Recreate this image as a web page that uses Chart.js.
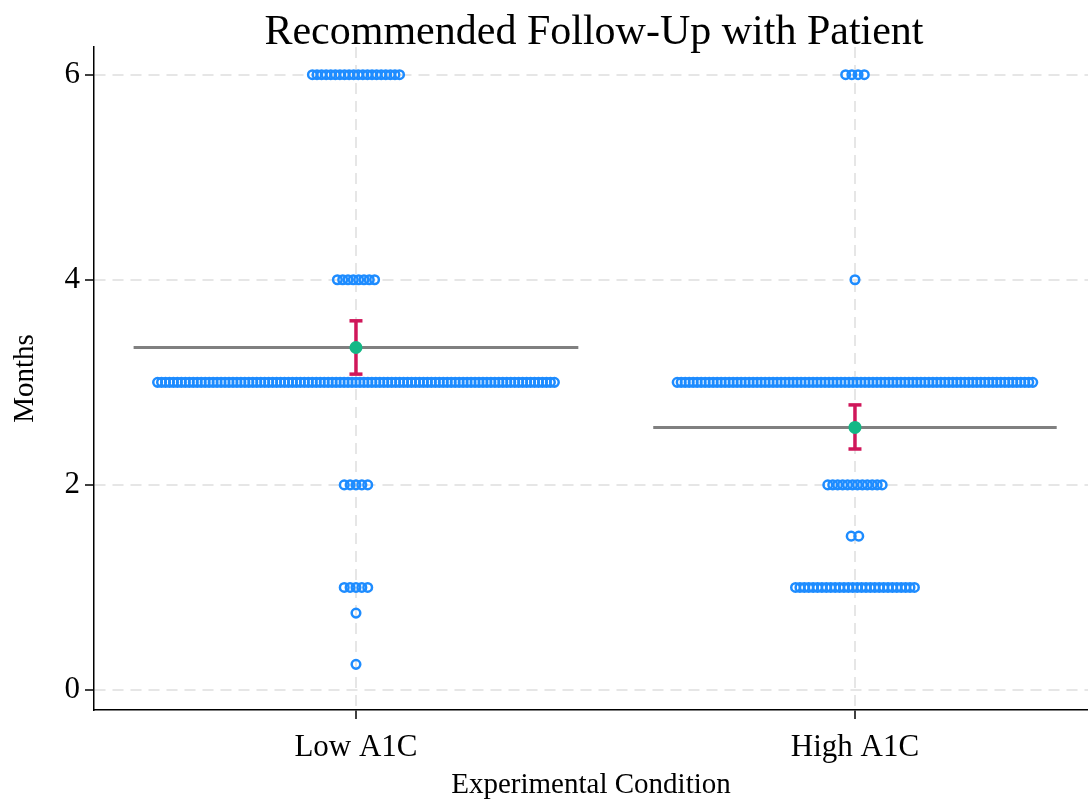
<!DOCTYPE html>
<html>
<head>
<meta charset="utf-8">
<title>Recommended Follow-Up with Patient</title>
<script src="https://cdn.jsdelivr.net/npm/chart.js@4.4.1/dist/chart.umd.min.js"></script>
<style>
  html, body { margin: 0; padding: 0; background: #fff; }
  canvas { display: block; }
</style>
</head>
<body>
<canvas id="chart" width="1088" height="805"></canvas>
<script>
// categories and the response rows (value + how many patients gave it)
const categories = ["Low A1C", "High A1C"];
const lowValues = [6, 4, 3, 2, 1, 0.75, 0.25];
const lowCounts = [20, 8, 101, 5, 5, 1, 1];
const highValues = [6, 4, 3, 2, 1.5, 1];
const highCounts = [4, 1, 90, 12, 2, 28];

// group means with confidence interval
const means = [3.34, 2.56];
const ciLower = [3.08, 2.35];
const ciUpper = [3.60, 2.78];

const yTicks = [0, 2, 4, 6];

// horizontal step between stacked dots, shrinks for big rows
const dotStep = (n) => 0.0072 + 0.012 * Math.pow(n, -0.6);

function stackRows(catIndex, values, counts) {
  const pts = [];
  let maxHalf = 0;
  values.forEach((v, r) => {
    const n = counts[r];
    const step = dotStep(n);
    maxHalf = Math.max(maxHalf, ((n - 1) / 2) * step);
    for (let i = 0; i < n; i++) {
      pts.push({ x: catIndex + (i - (n - 1) / 2) * step, y: v });
    }
  });
  return { pts, maxHalf };
}

const low = stackRows(0, lowValues, lowCounts);
const high = stackRows(1, highValues, highCounts);
const groups = [low, high];

const serif = "'Liberation Serif', 'Times New Roman', serif";
const blue = "#1e8cff";
const crimson = "#d0175a";
const green = "#14b886";

const datasets = [];

// mean dots on top
datasets.push({
  type: "scatter",
  data: means.map((m, i) => ({ x: i, y: m })),
  pointRadius: 6.5,
  pointBackgroundColor: green,
  pointBorderColor: green,
  pointBorderWidth: 0,
  order: 0,
});

// error bars with caps
means.forEach((m, i) => {
  datasets.push({
    type: "line",
    data: [{ x: i, y: ciLower[i] }, { x: i, y: ciUpper[i] }],
    borderColor: crimson,
    borderWidth: 3.5,
    pointStyle: "line",
    pointRadius: 6.5,
    pointBorderWidth: 3.5,
    pointBorderColor: crimson,
    order: 1,
  });
});

// grey mean lines, a bit wider than the widest row
means.forEach((m, i) => {
  const half = groups[i].maxHalf + 0.048;
  datasets.push({
    type: "line",
    data: [{ x: i - half, y: m }, { x: i + half, y: m }],
    borderColor: "#808080",
    borderWidth: 3,
    pointRadius: 0,
    order: 2,
  });
});

// the raw responses
groups.forEach((g) => {
  datasets.push({
    type: "scatter",
    data: g.pts,
    pointRadius: 4.3,
    pointBorderWidth: 2.5,
    pointBorderColor: blue,
    pointBackgroundColor: "rgba(255,255,255,0)",
    order: 3,
  });
});

const titlePlugin = {
  id: "centerTitle",
  afterDraw(chart) {
    const { ctx, chartArea } = chart;
    ctx.save();
    ctx.font = "42px " + serif;
    ctx.fillStyle = "#000";
    ctx.textAlign = "center";
    ctx.textBaseline = "alphabetic";
    ctx.fillText("Recommended Follow-Up with Patient", (chartArea.left + chartArea.right) / 2 + 3, 44);
    ctx.restore();
  },
};

const gridStyle = {
  color: "#e6e6e6",
  lineWidth: 2,
  tickColor: "#000",
  tickLength: 9,
  tickWidth: 1.5,
};

new Chart(document.getElementById("chart").getContext("2d"), {
  data: { datasets },
  plugins: [titlePlugin],
  options: {
    responsive: false,
    animation: false,
    devicePixelRatio: 1,
    layout: { autoPadding: false, padding: { top: 47, right: 0, left: 0, bottom: 0 } },
    plugins: { legend: { display: false }, tooltip: { enabled: false } },
    scales: {
      x: {
        type: "linear",
        position: "bottom",
        min: -0.525,
        max: 1.467,
        afterBuildTicks: (scale) => {
          scale.ticks = categories.map((c, i) => ({ value: i }));
        },
        afterFit: (scale) => {
          scale.height = 95;
          scale.paddingLeft = 0;
          scale.paddingRight = 0;
        },
        ticks: {
          callback: (v) => categories[v],
          font: { family: serif, size: 31 },
          color: "#000",
          padding: 10,
          maxRotation: 0,
        },
        grid: gridStyle,
        border: { display: true, color: "#000", width: 1.5, dash: [11, 7] },
        title: {
          display: true,
          text: "Experimental Condition",
          font: { family: serif, size: 29 },
          color: "#000",
          padding: { top: 0, bottom: 2 },
        },
      },
      y: {
        type: "linear",
        min: -0.195,
        max: 6.27,
        afterBuildTicks: (scale) => {
          scale.ticks = yTicks.map((v) => ({ value: v }));
        },
        afterFit: (scale) => {
          scale.width = 94;
          scale.paddingTop = 0;
          scale.paddingBottom = 0;
        },
        ticks: {
          font: { family: serif, size: 31 },
          color: "#000",
          padding: 5,
        },
        grid: gridStyle,
        border: { display: true, color: "#000", width: 1.5, dash: [11, 7] },
        title: {
          display: true,
          text: "Months",
          font: { family: serif, size: 29 },
          color: "#000",
          padding: { top: 8, bottom: 0 },
        },
      },
    },
  },
});
</script>
</body>
</html>
